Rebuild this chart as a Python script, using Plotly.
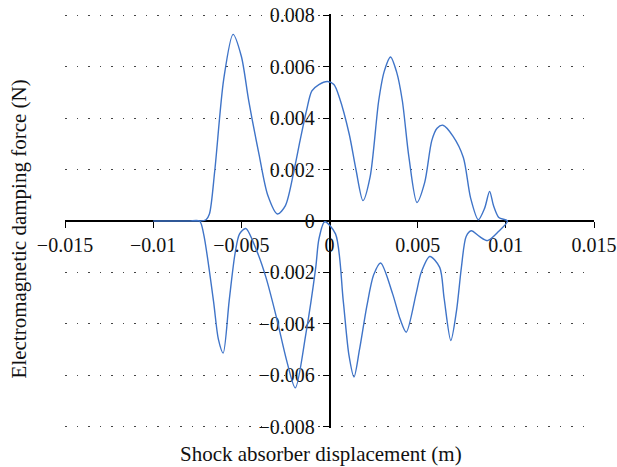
import plotly.graph_objects as go

# Upper branch (left to right)
upper_x = [-0.0100, -0.0080, -0.00737, -0.0070, -0.00681, -0.0065, -0.0060, -0.00547, -0.0050, -0.00458,
           -0.0040, -0.0035, -0.00295, -0.0025, -0.0020, -0.00167, -0.0013, -0.0010, -0.0006, -0.00011,
           0.00025, 0.00056, 0.00112, 0.0015, 0.0019, 0.0023, 0.00279, 0.0031, 0.00346, 0.0038,
           0.00413, 0.0045, 0.00496, 0.0054, 0.0058, 0.0061, 0.00643, 0.0070, 0.00759, 0.0080,
           0.00844, 0.0088, 0.00908, 0.0093, 0.0096, 0.01009]
upper_y = [0.0, 0.0, 0.0, 0.00005, 0.00027, 0.0020, 0.0055, 0.00725, 0.0064, 0.00467,
           0.0026, 0.0010, 0.00027, 0.0006, 0.0020, 0.00312, 0.0043, 0.00505, 0.0053, 0.00542,
           0.0053, 0.0048, 0.00337, 0.0020, 0.00079, 0.0017, 0.00467, 0.0058, 0.00637, 0.0058,
           0.00467, 0.0025, 0.00072, 0.0015, 0.00312, 0.0036, 0.00372, 0.0033, 0.00247, 0.0009,
           0.00005, 0.0005, 0.00115, 0.0006, 0.00014, 0.0]

# Lower branch (right to left)
lower_x = [0.01009, 0.0096, 0.00897, 0.0085, 0.00804, 0.00775, 0.00748, 0.0072, 0.00688, 0.0065,
           0.00625, 0.00569, 0.0052, 0.00491, 0.00435, 0.0040, 0.00358, 0.0029, 0.0025, 0.00212,
           0.0017, 0.00139, 0.0011, 0.00078, 0.00034, -0.00027, -0.0006, -0.00078, -0.00134, -0.00194,
           -0.0024, -0.00301, -0.0036, -0.00413, -0.00475, -0.0051, -0.00536, -0.00569, -0.00603, -0.0063,
           -0.00658, -0.00714, -0.00737, -0.0080, -0.0100]
lower_y = [0.0, -0.0004, -0.00076, -0.0006, -0.00038, -0.0006, -0.0018, -0.0035, -0.00464, -0.0030,
           -0.0018, -0.00138, -0.0020, -0.00283, -0.00432, -0.0038, -0.00283, -0.00163, -0.0021, -0.0033,
           -0.0050, -0.00606, -0.0052, -0.0031, -0.0005, -0.00003, -0.0007, -0.0018, -0.00438, -0.00648,
           -0.0055, -0.00374, -0.0022, -0.00115, -0.00029, -0.0005, -0.00128, -0.0031, -0.00513, -0.0046,
           -0.0031, -0.0005, 0.0, 0.0, 0.0]

x_ticks = [-0.015, -0.01, -0.005, 0, 0.005, 0.01, 0.015]
x_tick_text = ["\u22120.015", "\u22120.01", "\u22120.005", "0", "0.005", "0.01", "0.015"]
y_ticks = [0.008, 0.006, 0.004, 0.002, 0, -0.002, -0.004, -0.006, -0.008]
y_tick_text = ["0.008", "0.006", "0.004", "0.002", "0", "\u22120.002", "\u22120.004", "\u22120.006", "\u22120.008"]

x_title = "Shock absorber displacement (m)"
y_title = "Electromagnetic damping force (N)"

FONT = "Liberation Serif"

fig = go.Figure()
fig.add_trace(go.Scatter(
    x=upper_x + lower_x[1:], y=upper_y + lower_y[1:],
    mode="lines",
    line=dict(color="#3f74c8", width=1.4, shape="spline", smoothing=0.8),
    hoverinfo="skip", showlegend=False,
))

fig.update_layout(
    width=617, height=467,
    margin=dict(l=65, r=23, t=14, b=39),
    paper_bgcolor="white", plot_bgcolor="white",
    font=dict(family=FONT, size=20, color="#111"),
    showlegend=False,
    xaxis=dict(
        range=[-0.015, 0.015], tickvals=x_ticks, ticktext=x_tick_text,
        anchor="free", position=0.5, layer="below traces",
        showline=True, linecolor="black", linewidth=1.5,
        ticks="outside", ticklen=6, tickwidth=1.2, tickcolor="black",
        showgrid=False, zeroline=False, automargin=False,
        ticklabeloverflow="allow",
        tickfont=dict(family=FONT, size=20, color="#111"),
    ),
    yaxis=dict(
        range=[-0.00804, 0.00804], tickvals=y_ticks, ticktext=y_tick_text,
        anchor="free", position=0.5, layer="below traces",
        showline=True, linecolor="black", linewidth=1.5,
        ticks="outside", ticklen=6, tickwidth=1.2, tickcolor="black",
        ticklabelstandoff=4,
        showgrid=True, gridcolor="#444", gridwidth=1.3, griddash="1.5px,10px",
        zeroline=False, automargin=False,
        ticklabeloverflow="allow",
        tickfont=dict(family=FONT, size=20, color="#111"),
    ),
    annotations=[
        dict(text=x_title, xref="paper", yref="paper", x=0.484, y=-0.064,
             xanchor="center", yanchor="middle", showarrow=False,
             font=dict(family=FONT, size=21, color="#111")),
        dict(text=y_title, xref="paper", yref="paper", x=-0.087, y=0.482,
             xanchor="center", yanchor="middle", showarrow=False, textangle=-90,
             font=dict(family=FONT, size=21, color="#111")),
    ],
)

fig.write_html(
    "out.html",
    config={"displayModeBar": False},
    post_script="document.body.style.margin='0px';document.body.style.overflow='hidden';",
)
